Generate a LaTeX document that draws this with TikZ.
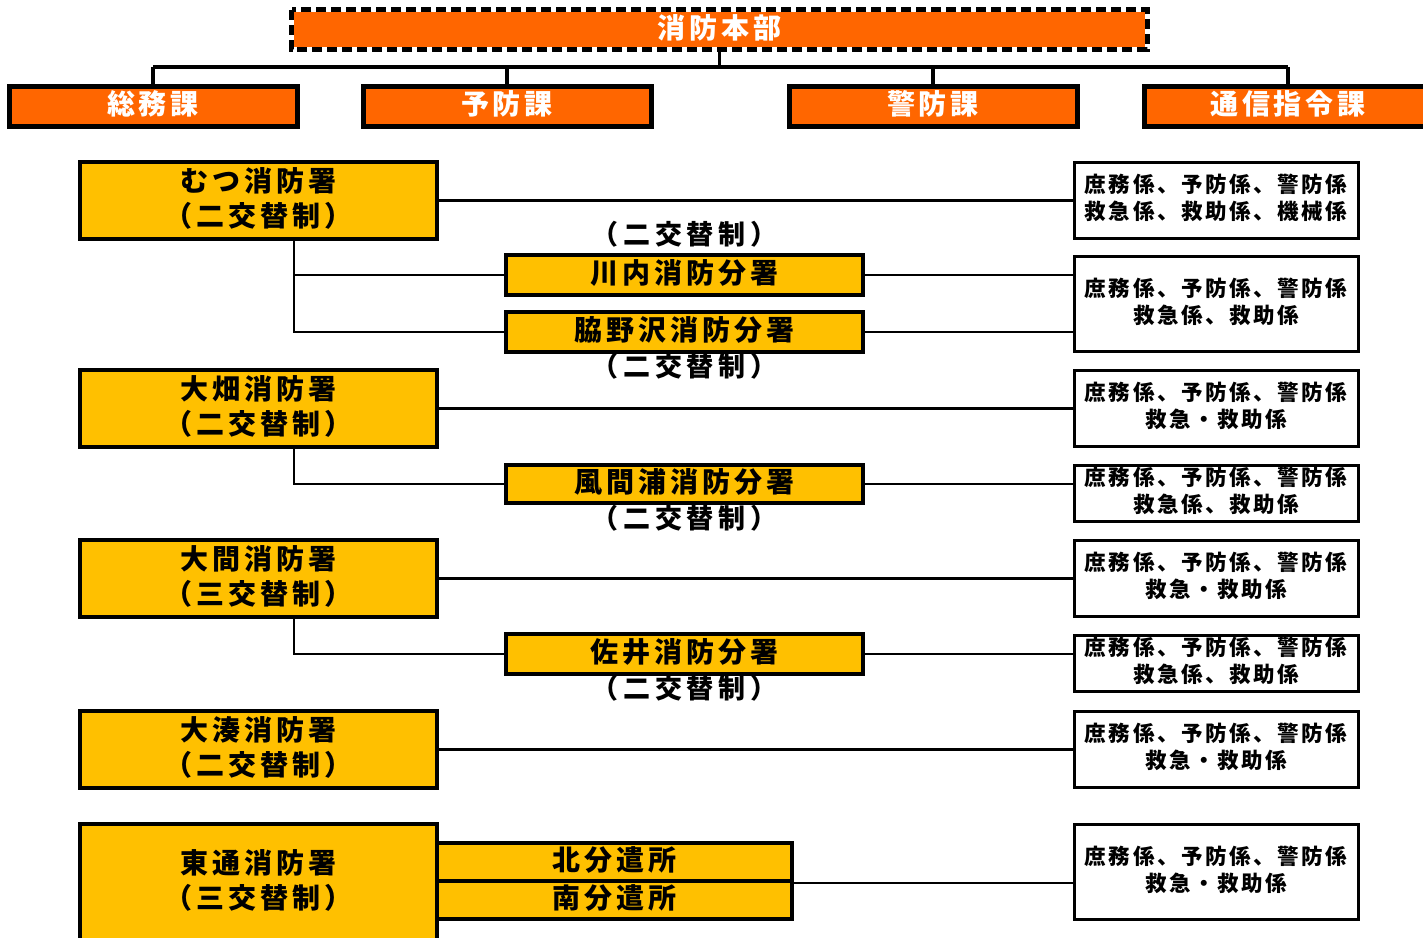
\documentclass[tikz,border=0pt]{standalone}
\usepackage{fontspec}
\newfontfamily\jp{Noto Sans CJK JP}[LetterSpace=14]
\newfontfamily\jps{Noto Sans CJK JP}[LetterSpace=12]
\newfontfamily\jpl{Noto Sans CJK JP}[LetterSpace=18]
\newcommand{\up}[1]{\raisebox{2pt}[\height][\depth]{#1}}
\definecolor{orng}{HTML}{FF6600}
\definecolor{ylw}{HTML}{FFC000}
\begin{document}
\begin{tikzpicture}[x=1pt,y=-1pt,
  dept/.style={draw=black,line width=5pt,fill=orng,text=white,minimum width=288,minimum height=40,inner sep=0pt,font=\jp\bfseries\fontsize{28}{30}\selectfont},
  stn/.style={draw=black,line width=4pt,fill=ylw,text=black,minimum width=357,minimum height=77,inner sep=0pt,align=center,font=\jp\bfseries\fontsize{28}{35}\selectfont},
  sub/.style={draw=black,line width=4pt,fill=ylw,text=black,minimum width=357,minimum height=40,inner sep=0pt,font=\jp\bfseries\fontsize{28}{30}\selectfont},
  sec/.style={draw=black,line width=3pt,fill=white,text=black,minimum width=284,minimum height=76,inner sep=0pt,align=center,font=\jps\bfseries\fontsize{21.5}{27}\selectfont},
  lbl/.style={inner sep=0pt,font=\jpl\bfseries\fontsize{27}{30}\selectfont},
  conn/.style={line width=2.5pt,draw=black},
  tconn/.style={line width=3.5pt,draw=black}]
\useasboundingbox (0,0) rectangle (1423,937);

% HQ
\node[fill=orng,minimum width=855,minimum height=39,inner sep=0pt,text=white,font=\jp\bfseries\fontsize{28}{30}\selectfont] (hq) at (719.5,29.5) {\up{消防本部}};
\draw[white,line width=5pt] (hq.north west) rectangle (hq.south east);
\draw[black,line width=5pt,dash pattern=on 10pt off 5pt] (hq.north west) rectangle (hq.south east);

% departments
\node[dept] (d1) at (153,106) {\up{総務課}};
\node[dept] (d2) at (507,106) {\up{予防課}};
\node[dept] (d3) at (933,106) {\up{警防課}};
\node[dept] (d4) at (1288,106) {\up{通信指令課}};

\coordinate (bus) at (719.5,67);
\draw[tconn] (hq.south) -- (bus);
\draw[tconn] (d1.north |- bus) -- (d4.north |- bus);
\foreach \d in {d1,d2,d3,d4} \draw[tconn] (\d.north |- bus) -- (\d.north);

% stations
\node[stn] (mutsu) at (258.5,200.5) {\up{むつ消防署}\\\up{（二交替制）}};
\node[stn] (ohata) at (258.5,408.5) {\up{大畑消防署}\\\up{（二交替制）}};
\node[stn] (oma) at (258.5,578.5) {\up{大間消防署}\\\up{（三交替制）}};
\node[stn] (ominato) at (258.5,749.5) {\up{大湊消防署}\\\up{（二交替制）}};
\node[stn,minimum height=116] (higashi) at (258.5,882) {\up{東通消防署}\\\up{（三交替制）}};

% labels (drawn under the boxes)
\node[lbl] (l1) at (684.5,236) {\up{（二交替制）}};
\node[lbl] (l2) at (684.5,368) {\up{（二交替制）}};
\node[lbl] (l3) at (684.5,520) {\up{（二交替制）}};
\node[lbl] (l4) at (684.5,690) {\up{（二交替制）}};

% sub stations
\node[sub] (kawa) at (684.5,275) {\up{川内消防分署}};
\node[sub] (waki) at (684.5,332) {\up{脇野沢消防分署}};
\node[sub,minimum height=38] (kaza) at (684.5,484) {\up{風間浦消防分署}};
\node[sub] (sai) at (684.5,654) {\up{佐井消防分署}};
\node[sub,minimum width=355,minimum height=38] (kita) at (614.5,862) {\up{北分遣所}};
\node[sub,minimum width=355,minimum height=38] (minami) at (614.5,900) {\up{南分遣所}};

% sections
\node[sec] (r1) at (1216,200) {\up{庶務係、予防係、警防係}\\\up{救急係、救助係、機械係}};
\node[sec,minimum height=95] (r2) at (1216,303.5) {\up{庶務係、予防係、警防係}\\\up{救急係、救助係}};
\node[sec] (r3) at (1216,408) {\up{庶務係、予防係、警防係}\\\up{救急・救助係}};
\node[sec,minimum height=56] (r4) at (1216,493) {\up{庶務係、予防係、警防係}\\\up{救急係、救助係}};
\node[sec] (r5) at (1216,578) {\up{庶務係、予防係、警防係}\\\up{救急・救助係}};
\node[sec,minimum height=56] (r6) at (1216,663) {\up{庶務係、予防係、警防係}\\\up{救急係、救助係}};
\node[sec] (r7) at (1216,749) {\up{庶務係、予防係、警防係}\\\up{救急・救助係}};
\node[sec,minimum height=95] (r8) at (1216,871.5) {\up{庶務係、予防係、警防係}\\\up{救急・救助係}};

% connectors
\coordinate (vx) at (294,0);
\draw[conn] (mutsu.east) -- (r1.west |- mutsu.east);
\draw[conn] (vx |- mutsu.south) |- (waki.west);
\draw[conn] (vx |- kawa.west) -- (kawa.west);
\draw[conn] (kawa.east) -- (r2.west |- kawa.east);
\draw[conn] (waki.east) -- (r2.west |- waki.east);
\draw[conn] (ohata.east) -- (r3.west |- ohata.east);
\draw[conn] (vx |- ohata.south) |- (kaza.west);
\draw[conn] (kaza.east) -- (r4.west |- kaza.east);
\draw[conn] (oma.east) -- (r5.west |- oma.east);
\draw[conn] (vx |- oma.south) |- (sai.west);
\draw[conn] (sai.east) -- (r6.west |- sai.east);
\draw[conn] (ominato.east) -- (r7.west |- ominato.east);
\draw[conn] (kita.south east) -- (r8.west |- kita.south east);
\end{tikzpicture}
\end{document}
